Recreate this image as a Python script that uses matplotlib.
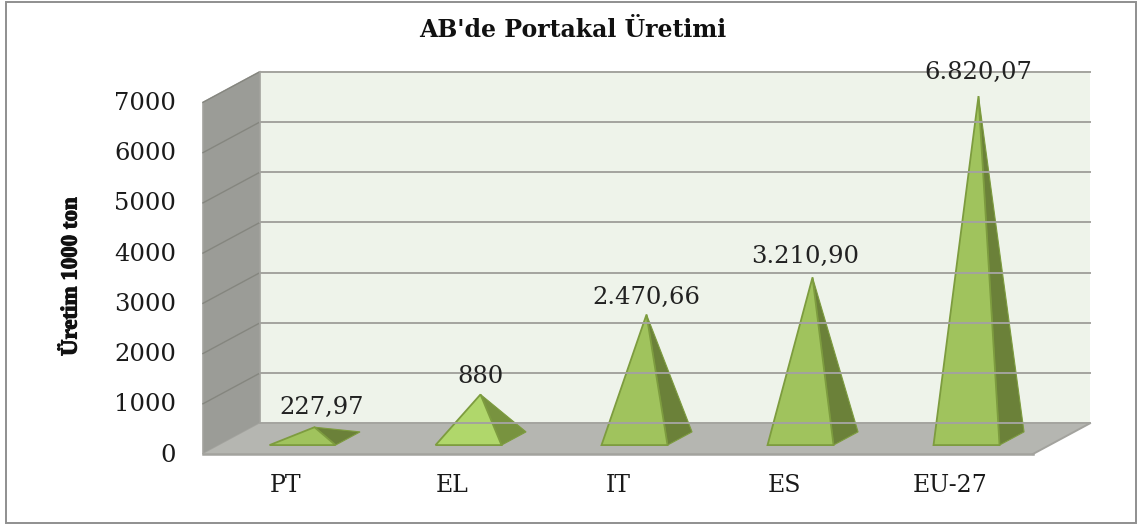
import matplotlib
matplotlib.use('Agg')
import matplotlib.pyplot as plt
import matplotlib.patheffects as pe
from matplotlib.patches import Polygon, Rectangle

# values
categories = ['PT', 'EL', 'IT', 'ES', 'EU-27']
values = [227.97, 880, 2470.66, 3210.90, 6820.07]
value_labels = ['227,97', '880', '2.470,66', '3.210,90', '6.820,07']
y_ticks = [0, 1000, 2000, 3000, 4000, 5000, 6000, 7000]

W, H = 1137, 524
fig = plt.figure(figsize=(W / 100, H / 100), dpi=100, facecolor='white')

# axes = front plane of the 3d box, in pixels of the reference
left, right, bottom, top = 203, 1033, 454, 102.4
ax = fig.add_axes([left / W, 1 - bottom / H, (right - left) / W, (bottom - top) / H])
ax.set_xlim(-0.5, 4.5)
ax.set_ylim(0, 7000)
ax.axis('off')

# depth of the box, expressed in data units
dx = 57 / 166
dy = 30.7 / (bottom - top) * 7000


def pt(x, y, d=0.0):
    """point at depth d (0 front, 1 back)"""
    return (x + dx * d, y + dy * d)


def poly(points, **kw):
    ax.add_patch(Polygon(points, closed=True, clip_on=False, **kw))


GRID = '#a3a39e'
x0, x1 = -0.5, 4.5

# walls
poly([pt(x0, 0, 1), pt(x1, 0, 1), pt(x1, 7000, 1), pt(x0, 7000, 1)], fc='#eef3ea', ec='none')
poly([pt(x0, 0, 0), pt(x0, 0, 1), pt(x0, 7000, 1), pt(x0, 7000, 0)], fc='#9b9c97', ec=GRID, lw=1.2)
poly([pt(x0, 0, 0), pt(x1, 0, 0), pt(x1, 0, 1), pt(x0, 0, 1)], fc='#b5b6b1', ec='none')

# gridlines
for t in y_ticks:
    a, b, c = pt(x0, t, 0), pt(x0, t, 1), pt(x1, t, 1)
    if t > 0:
        ax.plot([a[0], b[0]], [a[1], b[1]], color='#85867f', lw=1.0, clip_on=False)
    ax.plot([b[0], c[0]], [b[1], c[1]], color=GRID, lw=1.4, clip_on=False)
ax.plot([x0, x1], [0, 0], color=GRID, lw=1.8, clip_on=False)
ax.plot([x1, x1 + dx], [0, dy], color=GRID, lw=1.4, clip_on=False)

# pyramids
half = 33 / 166
d_front, d_back = 0.29, 0.72
shift = [(7, 20), (0, 18), (0, 17), (-7, 21), (0, 24)]
for i, (v, lab) in enumerate(zip(values, value_labels)):
    fl = pt(i - half, 0, d_front)
    fr = pt(i + half, 0, d_front)
    br = pt(i + half, 0, d_back)
    apex = pt(i, v, 0.5)
    front_col = '#b0d76b' if categories[i] == 'EL' else '#a0c35d'
    side_col = '#78933f' if categories[i] == 'EL' else '#6b8139'
    poly([fr, br, apex], fc=side_col, ec='#7d9c3f', lw=0.8)
    poly([fl, fr, apex], fc=front_col, ec='#7d9c3f', lw=1.3)
    ax.annotate(lab, xy=apex, xytext=shift[i], textcoords='offset pixels',
                ha='center', va='center', family='DejaVu Serif', fontsize=17.5,
                color='#222222', annotation_clip=False)

# axis labels
for t in y_ticks:
    ax.annotate(str(t), xy=(x0, t), xytext=(-27, -1), textcoords='offset pixels',
                ha='right', va='center', family='DejaVu Serif', fontsize=17.5,
                color='#1a1a1a', annotation_clip=False)
for i, c in enumerate(categories):
    ax.annotate(c, xy=(i, 0), xytext=(0, -31), textcoords='offset pixels',
                ha='center', va='center', family='DejaVu Serif', fontsize=17,
                color='#1a1a1a', annotation_clip=False)

fig.text(573 / W, 1 - 30 / H, "AB'de Portakal Üretimi", ha='center', va='center',
         family='DejaVu Serif', fontweight='bold', fontsize=17, color='#111111')
# the original label is squeezed and heavy, a thin stroke gets closer
fig.text(71 / W, 1 - 277 / H, 'Üretim 1000 ton', ha='center', va='center', rotation=90,
         family='Liberation Serif', fontweight='bold', fontsize=16.5, color='#111111',
         path_effects=[pe.withStroke(linewidth=0.8, foreground='#111111')])

# outer frame
fig.add_artist(Rectangle((5.5 / W, 1 - 523 / H), 1130.5 / W, 521.5 / H, transform=fig.transFigure,
                         fc='none', ec='#8f8f8f', lw=1.4))

fig.savefig('out.png', dpi=100)
